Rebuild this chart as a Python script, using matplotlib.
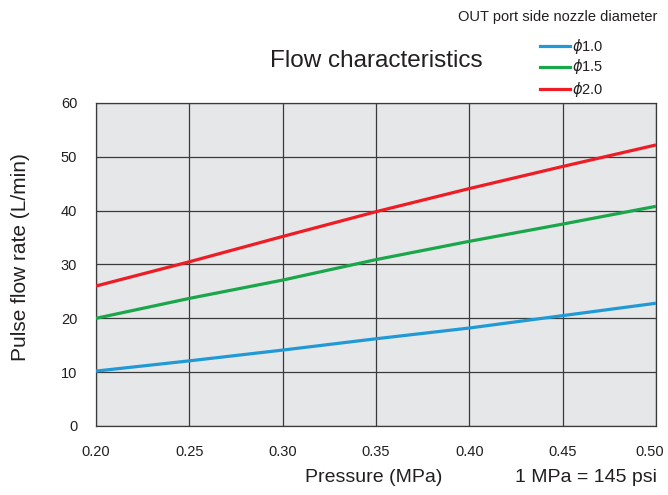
import matplotlib.pyplot as plt
from matplotlib.lines import Line2D
from matplotlib.transforms import ScaledTranslation

plt.rcParams['font.family'] = ['Liberation Sans', 'DejaVu Sans']

# Données
pression = [0.20, 0.25, 0.30, 0.35, 0.40, 0.45, 0.50]
debit_10 = [10.2, 12.1, 14.1, 16.2, 18.2, 20.5, 22.8]
debit_15 = [20.0, 23.7, 27.1, 30.9, 34.3, 37.5, 40.8]
debit_20 = [26.0, 30.5, 35.2, 39.8, 44.1, 48.2, 52.2]
labels = [r'$\phi$1.0', r'$\phi$1.5', r'$\phi$2.0']
couleurs = ['#1f9ad6', '#1aa64a', '#ee1c25']

fig = plt.figure(figsize=(6.68, 4.95), dpi=100)
ax = fig.add_axes([0.1437, 0.1394, 0.8383, 0.6526])
ax.set_facecolor('#e6e7e8')

for serie, c in zip([debit_10, debit_15, debit_20], couleurs):
    ax.plot(pression, serie, color=c, lw=2.3, solid_capstyle='butt', zorder=3)

ax.set_xlim(0.20, 0.50)
ax.set_ylim(0, 60)
ax.set_xticks([0.20, 0.25, 0.30, 0.35, 0.40, 0.45, 0.50])
ax.set_xticklabels(['0.20', '0.25', '0.30', '0.35', '0.40', '0.45', '0.50'])
ax.set_yticks(range(0, 61, 10))
ax.grid(True, color='#3a3a3a', lw=0.9)
ax.set_axisbelow(True)
for s in ax.spines.values():
    s.set_color('#3a3a3a')
    s.set_linewidth(0.9)
ax.tick_params(length=0, labelsize=10.5, colors='#231f20')
ax.tick_params(axis='x', pad=13.5)
ax.tick_params(axis='y', pad=13.5)

# décaler un peu la dernière étiquette pour qu'elle reste dans l'image
dernier = ax.get_xticklabels()[-1]
dernier.set_transform(dernier.get_transform() + ScaledTranslation(-6 / 100, 0, fig.dpi_scale_trans))

# Titres et étiquettes
fig.text(0.0314, 0.481, 'Pulse flow rate (L/min)', fontsize=15, rotation=90,
         ha='center', va='center', color='#231f20')
fig.text(0.56, 0.036, 'Pressure (MPa)', fontsize=14, ha='center', va='center', color='#231f20')
fig.text(0.983, 0.036, '1 MPa = 145 psi', fontsize=14, ha='right', va='center', color='#231f20')
fig.text(0.563, 0.877, 'Flow characteristics', fontsize=17.5, ha='center', va='center', color='#231f20')
fig.text(0.984, 0.965, 'OUT port side nozzle diameter', fontsize=10.5, ha='right', va='center', color='#231f20')

# Légende manuelle
ys = [0.907, 0.865, 0.820]
for y, c, lab in zip(ys, couleurs, labels):
    fig.add_artist(Line2D([0.808, 0.853], [y, y], color=c, lw=2.3, transform=fig.transFigure))
    fig.text(0.857, y, lab, fontsize=10.5, va='center', color='#231f20')

fig.savefig('out.png', dpi=100)
